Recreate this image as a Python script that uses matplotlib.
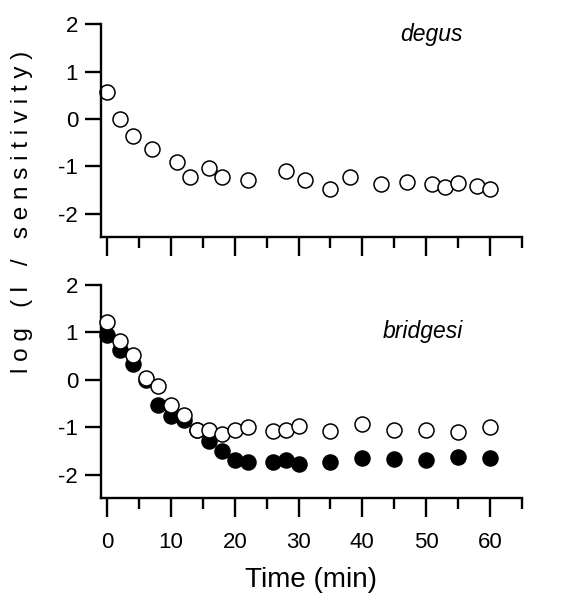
import matplotlib
matplotlib.use("Agg")
import matplotlib.pyplot as plt
from matplotlib.ticker import MultipleLocator

plt.rcParams['font.family'] = ['Liberation Sans', 'DejaVu Sans']

# degus (top panel), open circles
degus_t = [0, 2, 4, 7, 11, 13, 16, 18, 22, 28, 31, 35, 38, 43, 47, 51, 53, 55, 58, 60]
degus_y = [0.57, 0.0, -0.35, -0.64, -0.9, -1.22, -1.03, -1.22, -1.29, -1.11,
           -1.29, -1.47, -1.23, -1.38, -1.33, -1.38, -1.43, -1.35, -1.42, -1.49]

# bridgesi (bottom panel)
bridg_t = [0, 2, 4, 6, 8, 10, 12, 14, 16, 18, 20, 22, 26, 28, 30, 35, 40, 45, 50, 55, 60]
bridg_open = [1.22, 0.81, 0.53, 0.04, -0.13, -0.54, -0.74, -1.05, -1.05, -1.14, -1.05,
              -1.0, -1.09, -1.05, -0.98, -1.09, -0.94, -1.05, -1.07, -1.1, -1.0]
bridg_fill = [0.95, 0.62, 0.33, 0.0, -0.53, -0.77, -0.86, -1.05, -1.3, -1.5, -1.69,
              -1.74, -1.74, -1.69, -1.78, -1.74, -1.65, -1.67, -1.70, -1.63, -1.65]

x_ticks = [0, 10, 20, 30, 40, 50, 60]
y_ticks = [-2, -1, 0, 1, 2]

fig = plt.figure(figsize=(5.67, 5.96), dpi=100)
ax_top = fig.add_axes([0.178, 0.602, 0.742, 0.357])
ax_bot = fig.add_axes([0.178, 0.164, 0.742, 0.358])

lw = 1.7
ms = 10.8

def style(ax, show_xlabels):
    ax.set_xlim(-1, 65)
    ax.set_ylim(-2.5, 2)
    for s in ['top', 'right']:
        ax.spines[s].set_visible(False)
    for s in ['left', 'bottom']:
        ax.spines[s].set_linewidth(lw)
    ax.set_xticks(x_ticks)
    ax.xaxis.set_minor_locator(MultipleLocator(5))
    ax.set_yticks(y_ticks)
    ax.tick_params(axis='x', which='major', direction='out', length=13.5, width=lw,
                   pad=11, labelsize=16, labelbottom=show_xlabels)
    ax.tick_params(axis='x', which='minor', direction='out', length=8, width=lw)
    ax.tick_params(axis='y', which='major', direction='out', length=11.5, width=lw,
                   pad=5, labelsize=16)
    ax.set_yticklabels([str(v) for v in y_ticks])

style(ax_top, False)
style(ax_bot, True)

ax_top.plot(degus_t, degus_y, 'o', ms=ms, mfc='white', mec='black', mew=1.1,
            clip_on=False)
ax_top.text(0.86, 0.955, 'degus', transform=ax_top.transAxes, ha='right',
            va='center', fontsize=16.5, style='italic')

ax_bot.plot(bridg_t, bridg_fill, 'o', ms=ms, mfc='black', mec='black', mew=1.1,
            clip_on=False, zorder=3)
ax_bot.plot(bridg_t, bridg_open, 'o', ms=ms, mfc='white', mec='black', mew=1.1,
            clip_on=False, zorder=4)
ax_bot.text(0.86, 0.78, 'bridgesi', transform=ax_bot.transAxes, ha='right',
            va='center', fontsize=16.5, style='italic')

ax_bot.set_xlabel('Time (min)', fontsize=20, labelpad=10)

fig.text(0.039, 0.644, ' '.join('log (I / sensitivity)'), rotation=90,
         ha='center', va='center', fontsize=17.5)

fig.savefig('out.png', dpi=100)
